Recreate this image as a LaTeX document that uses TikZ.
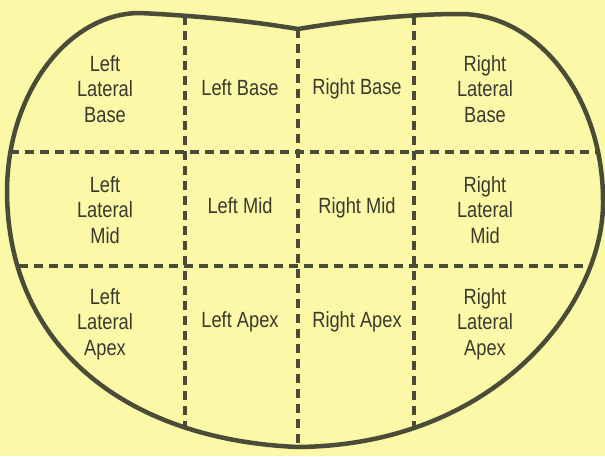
\documentclass[tikz,border=0pt]{standalone}
\usepackage{fontspec}
\setmainfont{Liberation Sans}[FakeStretch=0.83]
\usepackage{xcolor}
\definecolor{segyellow}{HTML}{FBF8A8}
\definecolor{segline}{HTML}{4A4C38}
\definecolor{segtext}{HTML}{3A3A2E}

\begin{document}
\begin{tikzpicture}[x=1pt,y=-1pt,
  seglabel/.style={align=center,text=segtext,inner sep=0pt,font=\fontsize{22}{25.5}\selectfont},
  segdiv/.style={segline,line width=3.2pt,dash pattern=on 9pt off 6pt}]
  \fill[segyellow] (0,0) rectangle (605,456);
  \useasboundingbox (0,0) rectangle (605,456);
  \coordinate (c1top) at (185,16);
  \coordinate (c1bot) at (185,427);
  \coordinate (c2top) at (298,29);
  \coordinate (c2bot) at (298,447);
  \coordinate (c3top) at (414,16);
  \coordinate (c3bot) at (414,428);
  \coordinate (r1left) at (10,152);
  \coordinate (r1right) at (597,152);
  \coordinate (r2left) at (19,266);
  \coordinate (r2right) at (590,266);
  \draw[segdiv] (c1top) -- (c1bot);
  \draw[segdiv] (c2top) -- (c2bot);
  \draw[segdiv] (c3top) -- (c3bot);
  \draw[segdiv] (r1left) -- (r1right);
  \draw[segdiv] (r2left) -- (r2right);
  \draw[segline,line width=4.5pt,line join=round] (c2top)
    .. controls (250,21) and (200,16) .. (140,13)
    .. controls (70,13) and (8,90) .. (7,190)
    .. controls (7,350) and (130,440) .. (c2bot)
    .. controls (500,445) and (605,300) .. (603,200)
    .. controls (603,100) and (540,14) .. (460,14)
    .. controls (400,14) and (340,22) .. (c2top) -- cycle;
  \node[seglabel] (llbase) at (105,89) {Left\\Lateral\\Base};
  \node[seglabel] (lbase) at (240,88) {Left Base};
  \node[seglabel] (rbase) at (357,89) {Right Base};
  \node[seglabel] (rlbase) at (485,89) {Right\\Lateral\\Base};
  \node[seglabel] (llmid) at (105,210) {Left\\Lateral\\Mid};
  \node[seglabel] (lmid) at (240,206) {Left Mid};
  \node[seglabel] (rmid) at (357,208) {Right Mid};
  \node[seglabel] (rlmid) at (485,210) {Right\\Lateral\\Mid};
  \node[seglabel] (llapex) at (105,324) {Left\\Lateral\\Apex};
  \node[seglabel] (lapex) at (240,322) {Left Apex};
  \node[seglabel] (rapex) at (357,322) {Right Apex};
  \node[seglabel] (rlapex) at (485,324) {Right\\Lateral\\Apex};
\end{tikzpicture}
\end{document}
